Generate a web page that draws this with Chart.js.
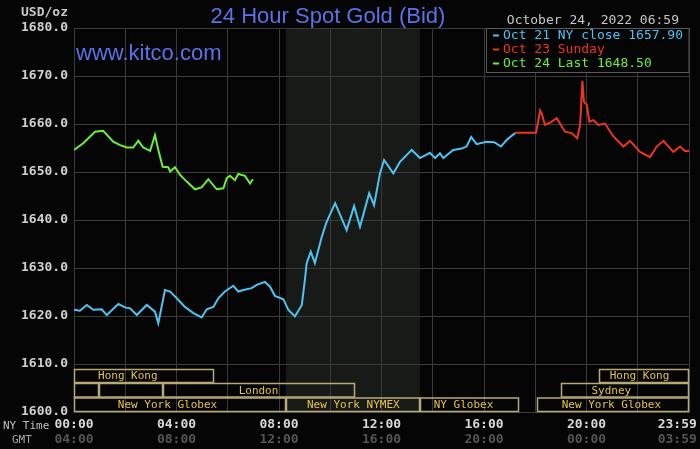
<!DOCTYPE html>
<html>
<head>
<meta charset="utf-8">
<title>24 Hour Spot Gold (Bid)</title>
<script src="https://cdn.jsdelivr.net/npm/chart.js@4.4.0/dist/chart.umd.min.js"></script>
<style>
  html, body { margin: 0; padding: 0; background: #050505; }
  #wrap { width: 700px; height: 449px; position: relative; }
</style>
</head>
<body>
<div id="wrap"><canvas id="gold-chart"></canvas></div>
<script>
// hours are NY time (0 = 00:00), values in USD/oz

// Oct 21 NY close
var blueHours = [0, 0.23, 0.50, 0.75, 1.08, 1.28, 1.73, 1.99, 2.19, 2.45, 2.84, 3.16, 3.29, 3.55, 3.75,
  4.01, 4.33, 4.66, 4.98, 5.18, 5.44, 5.63, 5.89, 6.22, 6.41, 6.61, 6.93, 7.13, 7.45, 7.65, 7.84,
  8.17, 8.36, 8.62, 8.89, 9.01, 9.08, 9.24, 9.40, 9.67, 9.86, 10.19, 10.64, 10.93, 11.16, 11.52,
  11.71, 11.94, 12.10, 12.46, 12.72, 13.18, 13.50, 13.89, 14.09, 14.28, 14.41, 14.80, 15.13, 15.32,
  15.50, 15.71, 16.10, 16.40, 16.66, 16.89, 17.21];
var blueValues = [1621.3, 1621.1, 1622.3, 1621.3, 1621.4, 1620.2, 1622.5, 1621.8, 1621.6, 1620.2, 1622.3, 1620.9, 1618.5, 1625.4, 1625.1,
  1623.7, 1621.9, 1620.6, 1619.7, 1621.4, 1621.9, 1623.7, 1625.1, 1626.3, 1625.1, 1625.4, 1625.8, 1626.5, 1627.1, 1626.1, 1624.2,
  1623.5, 1621.3, 1619.9, 1622.3, 1627.5, 1631.0, 1633.4, 1631.0, 1636.5, 1639.6, 1643.5, 1637.9, 1642.9, 1638.6, 1645.6,
  1643.1, 1649.7, 1652.5, 1649.7, 1652.1, 1654.6, 1652.9, 1654.0, 1652.9, 1653.9, 1652.9, 1654.6, 1654.9, 1655.3,
  1657.3, 1655.8, 1656.3, 1656.2, 1655.3, 1656.7, 1658.1];

// Oct 23 Sunday
var redHours = [17.21, 18.03, 18.19, 18.25, 18.38, 18.58, 18.84, 19.16, 19.42, 19.64, 19.75, 19.84, 19.90,
  20.01, 20.11, 20.27, 20.46, 20.72, 21.05, 21.44, 21.70, 22.09, 22.48, 22.74, 23.00, 23.39, 23.65, 23.84, 24];
var redValues = [1658.2, 1658.2, 1662.8, 1662.2, 1659.8, 1660.3, 1661.2, 1658.4, 1658.1, 1657.0, 1659.8, 1669.0, 1664.6,
  1664.0, 1660.5, 1660.8, 1659.8, 1660.1, 1657.4, 1655.3, 1656.5, 1654.2, 1653.1, 1655.3, 1656.5, 1654.2, 1655.3, 1654.4, 1654.4];

// Oct 24 (today, up to 06:59)
var greenHours = [0, 0.36, 0.82, 1.14, 1.53, 1.80, 2.06, 2.31, 2.51, 2.70, 2.97, 3.16, 3.29, 3.46, 3.68, 3.75,
  3.94, 4.14, 4.40, 4.72, 4.98, 5.24, 5.57, 5.83, 5.96, 6.09, 6.28, 6.41, 6.67, 6.87, 6.98];
var greenValues = [1654.6, 1656.0, 1658.4, 1658.6, 1656.3, 1655.6, 1655.1, 1655.1, 1656.5, 1655.1, 1654.4, 1657.7, 1654.6, 1651.1, 1651.0, 1650.1,
  1651.0, 1649.4, 1648.0, 1646.4, 1646.8, 1648.5, 1646.4, 1646.6, 1648.7, 1649.2, 1648.3, 1649.6, 1649.2, 1647.6, 1648.5];

var seriesLabels = ['Oct 21 NY close 1657.90', 'Oct 23 Sunday', 'Oct 24 Last 1648.50'];

// axis ticks
var tickHours = [0, 4, 8, 12, 16, 20, 24];
var nyTickLabels = ['00:00', '04:00', '08:00', '12:00', '16:00', '20:00', '23:59'];
var gmtTickLabels = ['04:00', '08:00', '12:00', '16:00', '20:00', '00:00', '03:59'];

// trading sessions (NY hours)
var sessionNames = ['Hong Kong', 'Hong Kong', '', '', 'London', 'Sydney',
  'New York Globex', 'New York NYMEX', 'NY Globex', 'New York Globex'];
var sessionStart = [0, 20.5, 0, 0.97, 3.47, 18.99, 0, 8.27, 13.5, 18.05];
var sessionEnd = [5.46, 24, 0.97, 3.47, 10.95, 24, 8.27, 13.5, 17.35, 24];
var sessionRow = [0, 0, 1, 1, 1, 1, 2, 2, 2, 2];
var sessionLabelAt = [2.1, 22.07, 0, 0, 7.2, 20.97, 3.65, 10.9, 15.2, 20.97];

var nymexStart = 8.27, nymexEnd = 13.5;

var monoFont = '"DejaVu Sans Mono", "Liberation Mono", monospace';
var sansFont = '"Liberation Sans", Arial, sans-serif';
var gridColor = '#3a3a3a';

function toPoints(hours, values) {
  return hours.map(function (h, i) { return { x: h, y: values[i] }; });
}

function tickCallback(labels) {
  return function (value) {
    var i = tickHours.indexOf(value);
    if (i < 0) return '';
    // pad the last label so it stays inside the canvas
    return i === tickHours.length - 1 ? labels[i] + '   ' : labels[i];
  };
}

// background + NYMEX shading, under the grid
var backdrop = {
  id: 'backdrop',
  beforeDraw: function (chart) {
    var ctx = chart.ctx, a = chart.chartArea, x = chart.scales.x;
    ctx.save();
    ctx.fillStyle = '#050505';
    ctx.fillRect(0, 0, chart.width, chart.height);
    ctx.fillStyle = '#171a17';
    var x1 = x.getPixelForValue(nymexStart), x2 = x.getPixelForValue(nymexEnd);
    ctx.fillRect(x1, a.top, x2 - x1, a.bottom - a.top);
    ctx.restore();
  }
};

// session boxes along the bottom of the plot
var sessions = {
  id: 'sessions',
  beforeDatasetsDraw: function (chart) {
    var ctx = chart.ctx, a = chart.chartArea, x = chart.scales.x;
    var rowTop = [a.bottom - 43, a.bottom - 29, a.bottom - 14.5];
    var rowBottom = [a.bottom - 29, a.bottom - 14.5, a.bottom];
    ctx.save();
    ctx.strokeStyle = '#b8aa78';
    ctx.lineWidth = 1.5;
    ctx.font = '11px ' + monoFont;
    ctx.textAlign = 'center';
    ctx.textBaseline = 'middle';
    for (var i = 0; i < sessionNames.length; i++) {
      var r = sessionRow[i];
      var x1 = Math.round(x.getPixelForValue(sessionStart[i])) + 0.5;
      var x2 = Math.round(x.getPixelForValue(sessionEnd[i])) - 0.5;
      ctx.strokeRect(x1, rowTop[r] + 0.5, x2 - x1, rowBottom[r] - rowTop[r] - 1);
      if (sessionNames[i]) {
        ctx.fillStyle = '#e6c34a';
        ctx.fillText(sessionNames[i], x.getPixelForValue(sessionLabelAt[i]), (rowTop[r] + rowBottom[r]) / 2 + 0.5);
      }
    }
    ctx.restore();
  }
};

// header texts, legend box and axis captions
var decorations = {
  id: 'decorations',
  afterDraw: function (chart) {
    var ctx = chart.ctx, a = chart.chartArea;
    ctx.save();
    ctx.fillStyle = '#5b73e8';
    ctx.font = '22px ' + sansFont;
    ctx.textAlign = 'center';
    ctx.textBaseline = 'alphabetic';
    ctx.fillText('24 Hour Spot Gold (Bid)', 328, 23);
    ctx.textAlign = 'left';
    ctx.fillText('www.kitco.com', 76, 60);

    ctx.fillStyle = '#c8c8c8';
    ctx.font = 'bold 13px ' + monoFont;
    ctx.textBaseline = 'middle';
    ctx.textAlign = 'right';
    ctx.fillText('USD/oz', 68, 13);
    ctx.font = '13px ' + monoFont;
    ctx.fillText('October 24, 2022 06:59', 679, 21);

    ctx.font = '11px ' + monoFont;
    ctx.textAlign = 'left';
    ctx.fillStyle = '#c0c0c0';
    ctx.fillText('NY Time', 3, 426);
    ctx.fillStyle = '#a8a8a8';
    ctx.fillText('GMT', 12, 440);

    // legend
    var lx = 486.5, ly = a.top, lw = a.right - lx, lh = 44;
    ctx.fillStyle = '#050505';
    ctx.fillRect(lx, ly, lw, lh);
    ctx.strokeStyle = '#5a5a5a';
    ctx.lineWidth = 1;
    ctx.strokeRect(lx, ly + 0.5, lw, lh);
    ctx.font = '13px ' + monoFont;
    chart.data.datasets.forEach(function (ds, i) {
      var y = ly + 7.5 + i * 14;
      ctx.fillStyle = ds.borderColor;
      ctx.fillRect(493, y - 1, 6, 2);
      ctx.fillText(ds.label, 503, y);
    });
    ctx.restore();
  }
};

var ctx = document.getElementById('gold-chart');

var chartData = {
  datasets: [{
    label: seriesLabels[0],
    data: toPoints(blueHours, blueValues),
    borderColor: '#4fc3f2'
  }, {
    label: seriesLabels[1],
    data: toPoints(redHours, redValues),
    borderColor: '#ee3524'
  }, {
    label: seriesLabels[2],
    data: toPoints(greenHours, greenValues),
    borderColor: '#6cee3a'
  }]
};

var chartOptions = {
  responsive: true,
  maintainAspectRatio: false,
  animation: false,
  layout: { padding: { top: 28, right: 11, left: 0, bottom: 0 } },
  elements: {
    point: { radius: 0 },
    line: { borderWidth: 2, tension: 0 }
  },
  plugins: {
    legend: { display: false },
    title: { display: false },
    tooltip: { enabled: false }
  },
  scales: {
    x: {
      type: 'linear',
      position: 'bottom',
      min: 0,
      max: 24,
      afterFit: function (s) { s.height = 20; s.paddingLeft = 0; s.paddingRight = 0; },
      grid: { color: gridColor, drawTicks: false },
      border: { color: gridColor },
      ticks: {
        stepSize: 2,
        autoSkip: false,
        maxRotation: 0,
        padding: 5,
        color: '#d8d8d8',
        font: { family: monoFont, size: 13, weight: 'bold' },
        callback: tickCallback(nyTickLabels)
      }
    },
    gmt: {
      type: 'linear',
      position: 'bottom',
      min: 0,
      max: 24,
      afterFit: function (s) { s.height = 17; s.paddingLeft = 0; s.paddingRight = 0; },
      grid: { display: false, drawTicks: false },
      border: { display: false },
      ticks: {
        stepSize: 2,
        autoSkip: false,
        maxRotation: 0,
        padding: 0,
        color: '#555555',
        font: { family: monoFont, size: 13, weight: 'bold' },
        callback: tickCallback(gmtTickLabels)
      }
    },
    y: {
      min: 1600,
      max: 1680,
      afterFit: function (s) { s.width = 74; s.paddingTop = 0; s.paddingBottom = 0; },
      grid: { color: gridColor, drawTicks: false },
      border: { color: gridColor },
      ticks: {
        stepSize: 10,
        padding: 6,
        color: '#d0d0d0',
        font: { family: monoFont, size: 13, weight: 'bold' },
        callback: function (v) { return v.toFixed(1); }
      }
    }
  }
};

var config = {
  type: 'line',
  data: chartData,
  options: chartOptions,
  plugins: [backdrop, sessions, decorations]
};

var goldChart = new Chart(ctx, config);
</script>
</body>
</html>
